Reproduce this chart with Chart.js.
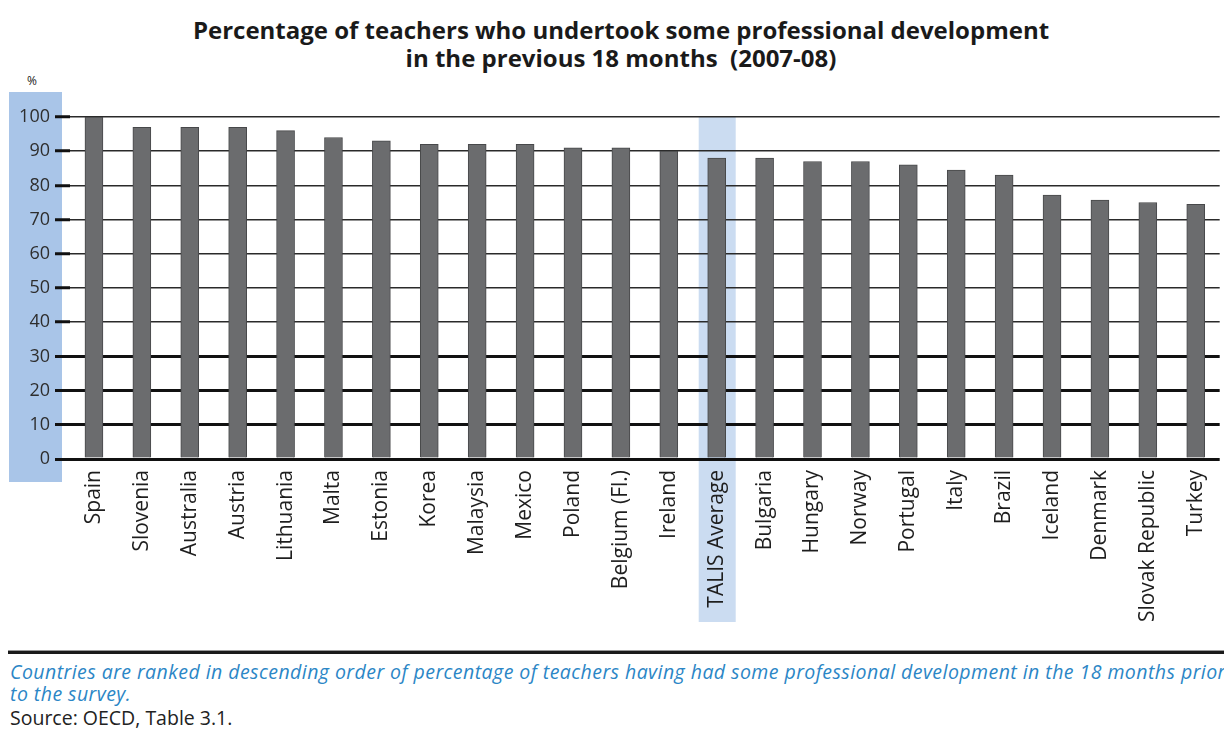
<!DOCTYPE html>
<html>
<head>
<meta charset="utf-8">
<script src="https://cdn.jsdelivr.net/npm/chart.js@4/dist/chart.umd.min.js"></script>
<style>
  html, body { margin: 0; padding: 0; background: #fff; }
  body { width: 1224px; height: 740px; position: relative; overflow: hidden; font-family: "Open Sans", sans-serif; }
  #wrap { position: absolute; left: 0; top: 0; width: 1224px; height: 650px; }
  .title { position: absolute; left: 0; width: 1242px; text-align: center; font-weight: bold; font-size: 24px; color: #1a1a1a; line-height: 28px; }
  .pct { position: absolute; left: 27px; top: 72px; font-size: 12px; color: #222; }
  .rule { position: absolute; left: 8px; right: 0; top: 650px; height: 0; border-top: 1px solid #999; border-bottom: 3px solid #1a1a1a; }
  .note { position: absolute; left: 10px; font-style: italic; font-size: 19.5px; letter-spacing: 0.45px; color: #2b86c6; white-space: nowrap; line-height: 22px; }
  .src { position: absolute; left: 10px; top: 706px; font-size: 19.5px; color: #222; line-height: 24px; }
</style>
</head>
<body>
<div class="title" style="top:16px">Percentage of teachers who undertook some professional development</div>
<div class="title" style="top:44px">in the previous 18 months&nbsp;&nbsp;(2007-08)</div>
<div class="pct">%</div>
<div id="wrap"><canvas id="chart" width="1224" height="650"></canvas></div>
<div class="rule"></div>
<div class="note" style="top:661px">Countries are ranked in descending order of percentage of teachers having had some professional development in the 18 months prior</div>
<div class="note" style="top:683px">to the survey.</div>
<div class="src">Source: OECD, Table 3.1.</div>

<script>
// Dữ liệu
const countries = ["Spain", "Slovenia", "Australia", "Austria", "Lithuania", "Malta", "Estonia", "Korea",
    "Malaysia", "Mexico", "Poland", "Belgium (Fl.)", "Ireland", "TALIS Average", "Bulgaria", "Hungary",
    "Norway", "Portugal", "Italy", "Brazil", "Iceland", "Denmark", "Slovak Republic", "Turkey"];
const percentValues = [100, 97, 97, 97, 96, 94, 93, 92, 92, 92, 91, 91, 90, 88, 88, 87,
    87, 86, 84.5, 83, 77.2, 75.7, 75.0, 74.5];
const yTicks = [0, 10, 20, 30, 40, 50, 60, 70, 80, 90, 100];
const highlightLabel = "TALIS Average";

// Vẽ nền xanh cho cột trục Y và cột TALIS Average
const bandPlugin = {
    id: "bands",
    beforeDraw(chart) {
        const c = chart.ctx;
        const x = chart.scales.x;
        const y = chart.scales.y;
        c.save();
        c.fillStyle = "#a9c5e8";
        c.fillRect(9, y.getPixelForValue(100) - 25, 53, y.getPixelForValue(0) - y.getPixelForValue(100) + 48);
        const idx = countries.indexOf(highlightLabel);
        const cx = x.getPixelForValue(idx);
        c.fillStyle = "#cbdcf1";
        c.fillRect(cx - 18, y.getPixelForValue(100), 37, 622 - y.getPixelForValue(100));
        c.restore();
    }
};

new Chart(document.getElementById("chart"), {
    type: "bar",
    data: {
        labels: countries,
        datasets: [{
            data: percentValues,
            backgroundColor: "#6b6c6e",
            borderColor: "#47484a",
            borderWidth: 1,
            borderSkipped: "bottom",
            barThickness: 18
        }]
    },
    plugins: [bandPlugin],
    options: {
        responsive: false,
        animation: false,
        layout: { padding: { top: 117, right: 3, left: 0, bottom: 0 } },
        plugins: { legend: { display: false }, tooltip: { enabled: false } },
        scales: {
            x: {
                grid: { display: false },
                border: { display: false },
                ticks: {
                    minRotation: 90, maxRotation: 90, autoSkip: false, padding: 3,
                    color: "#1e1e1e",
                    font: { family: "Open Sans", size: 21 }
                },
                afterFit(scale) { scale.height = 191; }
            },
            y: {
                min: 0, max: 100,
                afterBuildTicks(scale) { scale.ticks = yTicks.map(v => ({ value: v })); },
                afterFit(scale) { scale.width = 70; },
                border: { display: false },
                grid: {
                    color: ctx => ctx.tick && ctx.tick.value <= 30 ? "#111" : "#2a2a2a",
                    lineWidth: ctx => ctx.tick && ctx.tick.value <= 30 ? 3 : 1.5,
                    tickLength: 15,
                    tickColor: "#111",
                    tickWidth: 3
                },
                ticks: {
                    padding: 5,
                    color: "#2e2e2e",
                    font: { family: "Open Sans", size: 18 }
                }
            }
        }
    }
});
</script>
</body>
</html>
